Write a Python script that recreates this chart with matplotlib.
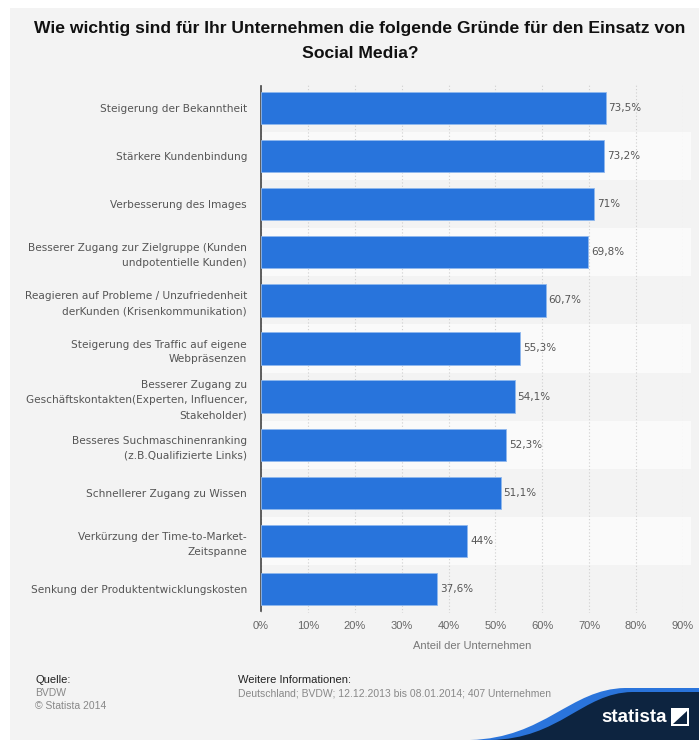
import matplotlib
matplotlib.use("Agg")
import matplotlib.pyplot as plt
from matplotlib.patches import PathPatch, Rectangle
from matplotlib.path import Path

categories = [
    "Steigerung der Bekanntheit",
    "Stärkere Kundenbindung",
    "Verbesserung des Images",
    "Besserer Zugang zur Zielgruppe (Kunden\nundpotentielle Kunden)",
    "Reagieren auf Probleme / Unzufriedenheit\nderKunden (Krisenkommunikation)",
    "Steigerung des Traffic auf eigene\nWebpräsenzen",
    "Besserer Zugang zu\nGeschäftskontakten(Experten, Influencer,\nStakeholder)",
    "Besseres Suchmaschinenranking\n(z.B.Qualifizierte Links)",
    "Schnellerer Zugang zu Wissen",
    "Verkürzung der Time-to-Market-\nZeitspanne",
    "Senkung der Produktentwicklungskosten",
]
values = [73.5, 73.2, 71.0, 69.8, 60.7, 55.3, 54.1, 52.3, 51.1, 44.0, 37.6]
value_labels = ["73,5%", "73,2%", "71%", "69,8%", "60,7%", "55,3%", "54,1%",
                "52,3%", "51,1%", "44%", "37,6%"]
xticks = [0, 10, 20, 30, 40, 50, 60, 70, 80, 90]

W, H = 699, 740
bg = "#f3f3f3"
blue = "#2874dc"
grey_txt = "#555555"
narrow = ["Liberation Sans", "DejaVu Sans"]

fig = plt.figure(figsize=(W / 100, H / 100), dpi=100)
fig.patch.set_facecolor("white")
# grey panel
fig.patches.append(Rectangle((10 / W, 0), 1, 1 - 8 / H, transform=fig.transFigure,
                             facecolor=bg, edgecolor="none", zorder=-10))

ax = fig.add_axes([261 / W, 1 - 613 / H, (683 - 261) / W, (613 - 84) / H])
ax.set_facecolor("none")

n = len(categories)
ypos = list(range(n))
ax.set_ylim(n - 0.5, -0.5)
ax.set_xlim(0, 90)

# alternating row stripes
for i in ypos:
    if i % 2 == 1:
        ax.axhspan(i - 0.5, i + 0.5, xmin=0, xmax=1.02, facecolor="#fafafa",
                   edgecolor="none", zorder=0, clip_on=False)

ax.barh(ypos, values, height=0.67, color=blue, edgecolor="#8fb8ee",
        linewidth=0.6, zorder=3)
for y, v, lab in zip(ypos, values, value_labels):
    ax.text(v + 0.6, y, lab, va="center", ha="left", fontsize=7.5,
            color=grey_txt, zorder=4)

ax.set_xticks(xticks)
ax.set_xticklabels([f"{t}%" for t in xticks], fontsize=8, color="#666666",
                   family=narrow)
ax.set_yticks(ypos)
ax.set_yticklabels(categories, fontsize=7.6, color=grey_txt, linespacing=1.62)
ax.tick_params(axis="both", length=0)
ax.tick_params(axis="x", pad=6)
ax.tick_params(axis="y", pad=10)
ax.xaxis.grid(True, color="#cfcfcf", linestyle=(0, (1, 2)), linewidth=0.8, zorder=1)
ax.set_axisbelow(True)
for s in ["top", "right", "bottom"]:
    ax.spines[s].set_visible(False)
ax.spines["left"].set_color("#444444")
ax.spines["left"].set_linewidth(1.2)
ax.spines["left"].set_bounds(n - 0.55, -0.46)
ax.set_xlabel("Anteil der Unternehmen", fontsize=8, color="#777777",
              family=narrow, labelpad=7)

fig.text(360 / W, 1 - 41 / H,
         "Wie wichtig sind für Ihr Unternehmen die folgende Gründe für den Einsatz von\nSocial Media?",
         ha="center", va="center", fontsize=12.6, fontweight="bold",
         family=narrow, color="#111111", linespacing=1.75)

# footer
fig.text(35 / W, 1 - 680 / H, "Quelle:", fontsize=8, color="#222222",
         family=narrow, va="center")
fig.text(35 / W, 1 - 693 / H, "BVDW", fontsize=7.5, color="#888888",
         family=narrow, va="center")
fig.text(35 / W, 1 - 706 / H, "© Statista 2014", fontsize=7.5, color="#888888",
         family=narrow, va="center")
fig.text(238 / W, 1 - 680 / H, "Weitere Informationen:", fontsize=8,
         color="#222222", family=narrow, va="center")
fig.text(238 / W, 1 - 693 / H,
         "Deutschland; BVDW; 12.12.2013 bis 08.01.2014; 407 Unternehmen",
         fontsize=7.5, color="#888888", family=narrow, va="center")

# statista logo
def px(x, y):
    return (x / W, 1 - y / H)

codes = [Path.MOVETO, Path.CURVE4, Path.CURVE4, Path.CURVE4,
         Path.LINETO, Path.LINETO, Path.CLOSEPOLY]
verts_blue = [px(470, 740), px(545, 738), px(570, 689), px(625, 688),
              px(699, 688), px(699, 740), px(470, 740)]
fig.patches.append(PathPatch(Path(verts_blue, codes), transform=fig.transFigure,
                             facecolor="#2a74db", edgecolor="none", zorder=1))
verts_dark = [px(490, 740), px(560, 739), px(582, 693), px(632, 692),
              px(699, 692), px(699, 740), px(490, 740)]
fig.patches.append(PathPatch(Path(verts_dark, codes), transform=fig.transFigure,
                             facecolor="#0d2440", edgecolor="none", zorder=2))
fig.text(634 / W, 1 - 718 / H, "statista", fontsize=13.5, fontweight="bold",
         color="white", family=narrow, ha="center", va="center", zorder=3)
fig.patches.append(Rectangle(px(671, 726), 18 / W, 18 / H, transform=fig.transFigure,
                             facecolor="white", edgecolor="none", zorder=3))
sv = [px(673, 724), px(687, 711), px(687, 724), px(673, 724)]
fig.patches.append(PathPatch(Path(sv, [Path.MOVETO, Path.LINETO, Path.LINETO,
                                       Path.CLOSEPOLY]),
                             transform=fig.transFigure, facecolor="#0d2440",
                             edgecolor="none", zorder=4))

fig.savefig("out.png", dpi=100, facecolor=fig.get_facecolor())
